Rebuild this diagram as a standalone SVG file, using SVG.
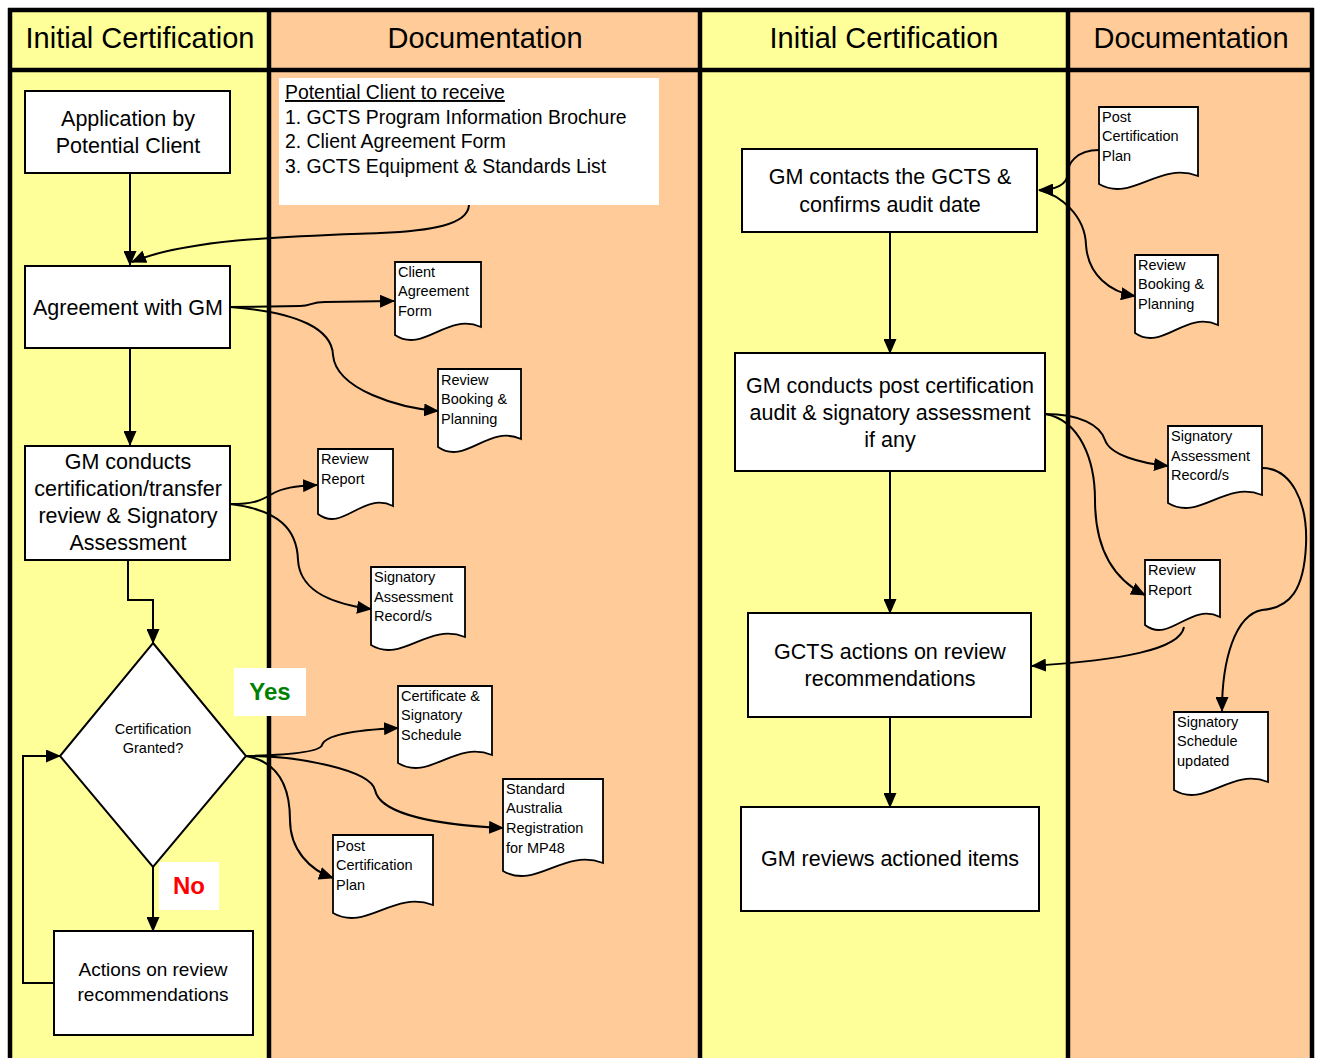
<svg xmlns="http://www.w3.org/2000/svg" width="1318" height="1058" viewBox="0 0 1318 1058">
<defs>
<marker id="ah" markerUnits="userSpaceOnUse" markerWidth="15" markerHeight="13" refX="14" refY="6.5" orient="auto">
<path d="M0,0 L15,6.5 L0,13 z" fill="#000"/>
</marker>
<style>
.hdr{font-family:"Liberation Sans",Arial,sans-serif;font-size:29px;fill:#000;text-anchor:middle}
.box{fill:#fff;stroke:#000;stroke-width:2}
.bt{font-family:"Liberation Sans",Arial,sans-serif;font-size:21.5px;fill:#000;text-anchor:middle}
.bt2{font-family:"Liberation Sans",Arial,sans-serif;font-size:19px;fill:#000;text-anchor:middle}
.doc{fill:#fff;stroke:#000;stroke-width:1.8;stroke-linejoin:miter}
.dt{font-family:"Liberation Sans",Arial,sans-serif;font-size:14.5px;fill:#000}
.tb{font-family:"Liberation Sans",Arial,sans-serif;font-size:19.4px;fill:#000}
.con{fill:none;stroke:#000;stroke-width:2;marker-end:url(#ah)}
</style>
</defs>
<rect width="1318" height="1058" fill="#fff"/>
<g id="lanes">
<rect x="10" y="10" width="259" height="1060" fill="#FFFF99"/>
<rect x="269" y="10" width="431" height="1060" fill="#FFCC99"/>
<rect x="700" y="10" width="368" height="1060" fill="#FFFF99"/>
<rect x="1068" y="10" width="244" height="1060" fill="#FFCC99"/>
<g stroke="#000" stroke-width="4.5" fill="none">
<line x1="8" y1="10" x2="1314" y2="10"/>
<line x1="8" y1="70" x2="1314" y2="70"/>
<line x1="10" y1="8" x2="10" y2="1060"/>
<line x1="269" y1="8" x2="269" y2="1060"/>
<line x1="700" y1="8" x2="700" y2="1060"/>
<line x1="1068" y1="8" x2="1068" y2="1060"/>
<line x1="1312" y1="8" x2="1312" y2="1060"/>
</g>
<text class="hdr" x="140" y="48">Initial Certification</text>
<text class="hdr" x="485" y="48">Documentation</text>
<text class="hdr" x="884" y="48">Initial Certification</text>
<text class="hdr" x="1191" y="48">Documentation</text>
</g>
<g id="connectors">
<path class="con" d="M130,173 V265"/>
<path class="con" d="M469,205 C468,225 430,231 380,233 C300,236 190,238 132,262"/>
<path class="con" d="M130,348 V445"/>
<path class="con" d="M128,560 V600 H153 V643"/>
<path class="con" d="M153,867 V931"/>
<path class="con" d="M53,983 H23 V756 H60"/>
<path class="con" d="M230,307 L300,306 C312,306 310,302 325,302 L394,301"/>
<path class="con" d="M230,307 C300,312 332,330 333,355 C336,390 400,408 438,411"/>
<path class="con" d="M230,504 C255,504 262,500 272,494 C282,488 295,486 317,485"/>
<path class="con" d="M230,504 C280,510 297,530 298,560 C300,595 340,605 371,609"/>
<path class="con" d="M246,756 C290,755 320,752 322,745 C325,735 355,730 398,728"/>
<path class="con" d="M246,756 C300,756 370,770 375,790 C380,815 440,825 503,828"/>
<path class="con" d="M246,756 C280,762 290,790 290,820 C290,850 310,870 333,878"/>
<path class="con" d="M890,232 V353"/>
<path class="con" d="M890,471 V613"/>
<path class="con" d="M890,717 V807"/>
<path class="con" d="M1099,150 C1075,150 1068,165 1068,172 C1068,185 1055,190 1039,190"/>
<path class="con" d="M1039,190 C1060,195 1085,215 1086,245 C1088,275 1110,292 1135,296"/>
<path class="con" d="M1045,414 C1080,414 1100,425 1105,440 C1110,455 1140,463 1168,466"/>
<path class="con" d="M1045,414 C1080,420 1095,460 1095,500 C1095,550 1115,580 1145,595"/>
<path class="con" d="M1184,627 C1180,650 1120,660 1032,666"/>
<path class="con" d="M1262,468 C1290,468 1308,500 1306,545 C1304,590 1290,608 1262,610 C1235,615 1222,660 1222,711"/>
</g>
<g id="n-application">
<rect class="box" x="25" y="91" width="205" height="82"/>
<text class="bt" x="128" y="126">Application by</text>
<text class="bt" x="128" y="153">Potential Client</text>
</g>
<g id="n-textbox">
<rect x="279" y="78" width="380" height="127" fill="#fff"/>
<text class="tb" x="285" y="99" text-decoration="underline">Potential Client to receive</text>
<text class="tb" x="285" y="124">1. GCTS Program Information Brochure</text>
<text class="tb" x="285" y="148">2. Client Agreement Form</text>
<text class="tb" x="285" y="173">3. GCTS Equipment &amp; Standards List</text>
</g>
<g id="n-agreement">
<rect class="box" x="25" y="266" width="205" height="82"/>
<text class="bt" x="128" y="315">Agreement with GM</text>
</g>
<g id="n-conducts">
<rect class="box" x="25" y="446" width="205" height="114"/>
<text class="bt" x="128" y="469">GM conducts</text>
<text class="bt" x="128" y="496">certification/transfer</text>
<text class="bt" x="128" y="523">review &amp; Signatory</text>
<text class="bt" x="128" y="550">Assessment</text>
</g>
<g id="n-decision">
<path class="box" d="M153,643 L246,756 L153,867 L60,756 Z"/>
<text class="dt" x="153" y="734" text-anchor="middle" fill="#222">Certification</text>
<text class="dt" x="153" y="753" text-anchor="middle" fill="#222">Granted?</text>
</g>
<g id="l-yes">
<rect x="234" y="668" width="72" height="48" fill="#fff"/>
<text x="270" y="700" text-anchor="middle" font-family="Liberation Sans, Arial, sans-serif" font-weight="bold" font-size="24" fill="#008000">Yes</text>
</g>
<g id="l-no">
<rect x="159" y="862" width="60" height="48" fill="#fff"/>
<text x="189" y="894" text-anchor="middle" font-family="Liberation Sans, Arial, sans-serif" font-weight="bold" font-size="24" fill="#FF0000">No</text>
</g>
<g id="n-actions">
<rect class="box" x="54" y="931" width="199" height="104"/>
<text class="bt2" x="153" y="976">Actions on review</text>
<text class="bt2" x="153" y="1001">recommendations</text>
</g>
<g id="d-client-agreement">
<path class="doc" d="M395,262 H481 V327 C446.6,312 423.4,354 395,335 Z"/>
<text class="dt" x="398" y="277">Client</text>
<text class="dt" x="398" y="296">Agreement</text>
<text class="dt" x="398" y="316">Form</text>
</g>
<g id="d-review-booking-1">
<path class="doc" d="M438,369 H521 V439 C487.8,424 465.4,466 438,447 Z"/>
<text class="dt" x="441" y="385">Review</text>
<text class="dt" x="441" y="404">Booking &amp;</text>
<text class="dt" x="441" y="424">Planning</text>
</g>
<g id="d-review-report-1">
<path class="doc" d="M318,449 H393 V506 C363,491 342.8,533 318,514 Z"/>
<text class="dt" x="321" y="464">Review</text>
<text class="dt" x="321" y="484">Report</text>
</g>
<g id="d-signatory-assessment-1">
<path class="doc" d="M371,567 H465 V637 C427.4,622 402,664 371,645 Z"/>
<text class="dt" x="374" y="582">Signatory</text>
<text class="dt" x="374" y="602">Assessment</text>
<text class="dt" x="374" y="621">Record/s</text>
</g>
<g id="d-certificate">
<path class="doc" d="M398,686 H492 V755 C454.4,740 429,782 398,763 Z"/>
<text class="dt" x="401" y="701">Certificate &amp;</text>
<text class="dt" x="401" y="720">Signatory</text>
<text class="dt" x="401" y="740">Schedule</text>
</g>
<g id="d-standard">
<path class="doc" d="M503,779 H603 V863 C563,848 536,890 503,871 Z"/>
<text class="dt" x="506" y="794">Standard</text>
<text class="dt" x="506" y="813">Australia</text>
<text class="dt" x="506" y="833">Registration</text>
<text class="dt" x="506" y="853">for MP48</text>
</g>
<g id="d-post-cert-1">
<path class="doc" d="M333,835 H433 V905 C393,890 366,932 333,913 Z"/>
<text class="dt" x="336" y="851">Post</text>
<text class="dt" x="336" y="870">Certification</text>
<text class="dt" x="336" y="890">Plan</text>
</g>
<g id="n-contacts">
<rect class="box" x="742" y="149" width="295" height="83"/>
<text class="bt" x="890" y="184">GM contacts the GCTS &amp;</text>
<text class="bt" x="890" y="212">confirms audit date</text>
</g>
<g id="n-post-audit">
<rect class="box" x="735" y="353" width="310" height="118"/>
<text class="bt" x="890" y="393">GM conducts post certification</text>
<text class="bt" x="890" y="420">audit &amp; signatory assessment</text>
<text class="bt" x="890" y="447">if any</text>
</g>
<g id="n-gcts-actions">
<rect class="box" x="748" y="613" width="283" height="104"/>
<text class="bt" x="890" y="659">GCTS actions on review</text>
<text class="bt" x="890" y="686">recommendations</text>
</g>
<g id="n-gm-reviews">
<rect class="box" x="741" y="807" width="298" height="104"/>
<text class="bt" x="890" y="866">GM reviews actioned items</text>
</g>
<g id="d-post-cert-2">
<path class="doc" d="M1099,107 H1198 V176 C1158.4,161 1131.7,203 1099,184 Z"/>
<text class="dt" x="1102" y="122">Post</text>
<text class="dt" x="1102" y="141">Certification</text>
<text class="dt" x="1102" y="161">Plan</text>
</g>
<g id="d-review-booking-2">
<path class="doc" d="M1135,255 H1218 V325 C1184.8,310 1162.4,352 1135,333 Z"/>
<text class="dt" x="1138" y="270">Review</text>
<text class="dt" x="1138" y="289">Booking &amp;</text>
<text class="dt" x="1138" y="309">Planning</text>
</g>
<g id="d-signatory-assessment-2">
<path class="doc" d="M1168,426 H1262 V495 C1224.4,480 1199,522 1168,503 Z"/>
<text class="dt" x="1171" y="441">Signatory</text>
<text class="dt" x="1171" y="461">Assessment</text>
<text class="dt" x="1171" y="480">Record/s</text>
</g>
<g id="d-review-report-2">
<path class="doc" d="M1145,560 H1220 V617 C1190,602 1169.8,644 1145,625 Z"/>
<text class="dt" x="1148" y="575">Review</text>
<text class="dt" x="1148" y="595">Report</text>
</g>
<g id="d-signatory-schedule">
<path class="doc" d="M1174,712 H1268 V782 C1230.4,767 1205,809 1174,790 Z"/>
<text class="dt" x="1177" y="727">Signatory</text>
<text class="dt" x="1177" y="746">Schedule</text>
<text class="dt" x="1177" y="766">updated</text>
</g>
</svg>
